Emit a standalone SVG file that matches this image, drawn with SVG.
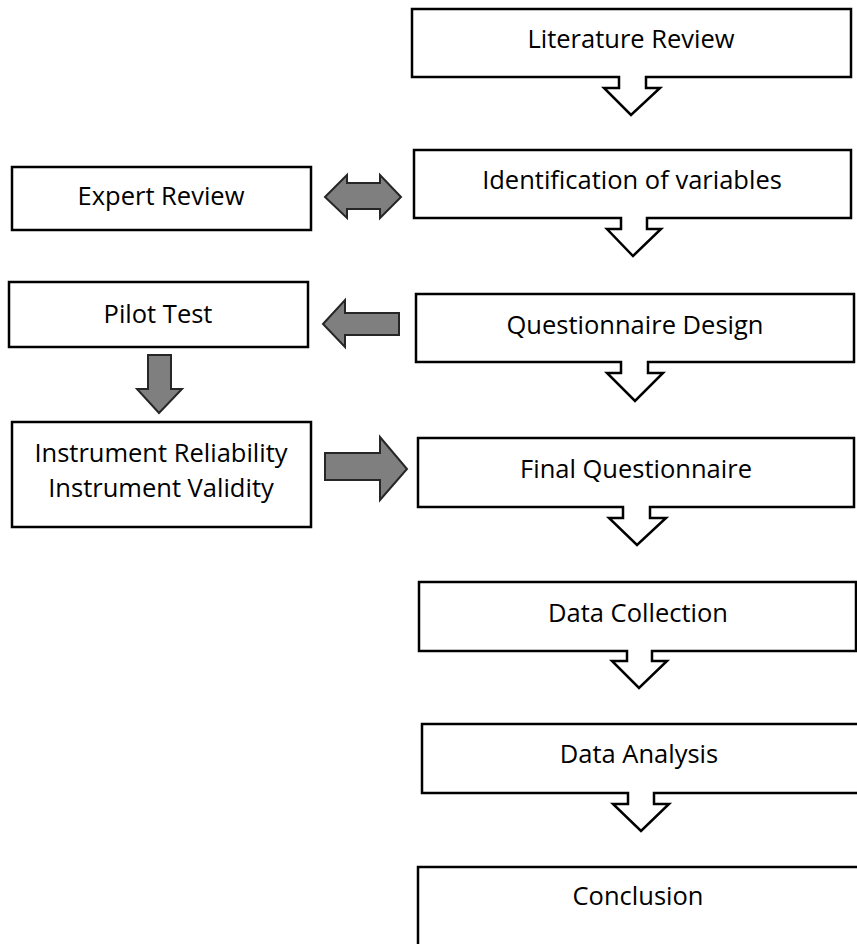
<svg xmlns="http://www.w3.org/2000/svg" width="857" height="944" viewBox="0 0 857 944">
  <style>
    .box { fill: #ffffff; stroke: #000000; stroke-width: 2.5; stroke-linejoin: miter; }
    .block { fill: #7f7f7f; stroke: #262626; stroke-width: 2; stroke-linejoin: miter; }
    .label { font-family: "Open Sans", "Noto Sans", "DejaVu Sans", sans-serif; font-size: 25.5px; fill: #000000; text-anchor: middle; }
  </style>
  <rect width="857" height="944" fill="#ffffff"/>

  <!-- main column: boxes with a down-arrow callout tail -->
  <g id="literature-review">
    <path class="box" d="M412,9 H851 V77 H646 V88 H660 L631,115 L604,88 H619 V77 H412 Z"/>
    <text class="label" x="631" y="48">Literature Review</text>
  </g>
  <g id="identification-of-variables">
    <path class="box" d="M414,150 H851 V218 H647 V229 H661 L633,256 L607,229 H621 V218 H414 Z"/>
    <text class="label" x="632" y="189">Identification of variables</text>
  </g>
  <g id="questionnaire-design">
    <path class="box" d="M416,294 H854 V362 H648 V373 H663 L635,401 L607,373 H621 V362 H416 Z"/>
    <text class="label" x="635" y="334">Questionnaire Design</text>
  </g>
  <g id="final-questionnaire">
    <path class="box" d="M418,438 H854 V507 H650 V518 H666 L637,545 L609,518 H623 V507 H418 Z"/>
    <text class="label" x="636" y="478">Final Questionnaire</text>
  </g>
  <g id="data-collection">
    <path class="box" d="M419,582 H856 V651 H652 V661 H667 L639,688 L612,661 H627 V651 H419 Z"/>
    <text class="label" x="638" y="622">Data Collection</text>
  </g>
  <g id="data-analysis">
    <path class="box" d="M422,724 H860 V793 H654 V804 H669 L641,831 L613,804 H628 V793 H422 Z"/>
    <text class="label" x="639" y="763">Data Analysis</text>
  </g>
  <g id="conclusion">
    <path class="box" d="M860,867 H418 V950"/>
    <text class="label" x="638" y="905">Conclusion</text>
  </g>

  <!-- side column -->
  <g id="expert-review">
    <rect class="box" x="12" y="167" width="299" height="63"/>
    <text class="label" x="161" y="205">Expert Review</text>
  </g>
  <g id="pilot-test">
    <rect class="box" x="9" y="282" width="299" height="65"/>
    <text class="label" x="158" y="323">Pilot Test</text>
  </g>
  <g id="instrument-checks">
    <rect class="box" x="12" y="422" width="299" height="105"/>
    <text class="label" x="161" y="462">Instrument Reliability</text>
    <text class="label" x="161" y="497">Instrument Validity</text>
  </g>

  <!-- grey block connectors -->
  <g id="connectors">
    <path class="block" d="M325,197 L347,175 V183 H380 V175 L401,197 L380,218 V209 H347 V218 Z"/>
    <path class="block" d="M323,324 L345,300 V313 H399 V335 H345 V347 Z"/>
    <path class="block" d="M148,355 H171 V389 H182 L159,413 L137,389 H148 Z"/>
    <path class="block" d="M325,453 H380 V437 L407,469 L380,500 V480 H325 Z"/>
  </g>
</svg>
